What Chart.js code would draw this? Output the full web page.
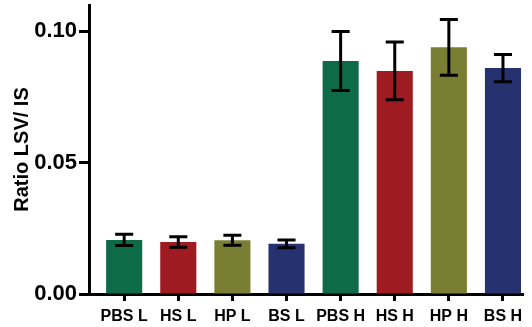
<!DOCTYPE html>
<html>
<head>
<meta charset="utf-8">
<script src="https://cdn.jsdelivr.net/npm/chart.js@4"></script>
<style>
html,body{margin:0;padding:0;background:#fff;}
canvas{display:block;}
</style>
</head>
<body>
<canvas id="c" width="532" height="327"></canvas>
<script>
const categories = ["PBS L","HS L","HP L","BS L","PBS H","HS H","HP H","BS H"];
const values = [0.0206, 0.0198, 0.0205, 0.0191, 0.0887, 0.0849, 0.0939, 0.0860];
const errors = [0.0021, 0.0020, 0.0019, 0.0015, 0.0112, 0.0110, 0.0106, 0.0052];
const colors = ["#0e6b4a","#9e1b22","#7a7e33","#263270","#0e6b4a","#9e1b22","#7a7e33","#263270"];
const yTicks = [0, 0.05, 0.10];

const FONT = 'Arial, "Liberation Sans", Helvetica, sans-serif';

const errorBars = {
  id: 'errorBars',
  afterDatasetsDraw(chart) {
    const ctx = chart.ctx;
    const y = chart.scales.y;
    const meta = chart.getDatasetMeta(0);
    ctx.save();
    ctx.strokeStyle = '#000';
    ctx.lineWidth = 3;
    ctx.lineCap = 'butt';
    meta.data.forEach((bar, i) => {
      const x = bar.x;
      const half = bar.width * 0.25;
      const top = y.getPixelForValue(values[i] + errors[i]);
      const bot = y.getPixelForValue(values[i] - errors[i]);
      ctx.beginPath();
      ctx.moveTo(x, top); ctx.lineTo(x, bot);
      ctx.moveTo(x - half, top); ctx.lineTo(x + half, top);
      ctx.moveTo(x - half, bot); ctx.lineTo(x + half, bot);
      ctx.stroke();
    });
    ctx.restore();
  }
};

new Chart(document.getElementById('c'), {
  type: 'bar',
  data: {
    datasets: [{
      data: categories.map((c, i) => ({x: i, y: values[i]})),
      backgroundColor: colors,
      borderWidth: 0,
      barPercentage: 0.667,
      categoryPercentage: 1.0
    }]
  },
  options: {
    responsive: false,
    animation: false,
    devicePixelRatio: 1,
    layout: { padding: { left: 0, right: 9, top: 5, bottom: 0 } },
    plugins: { legend: { display: false }, tooltip: { enabled: false } },
    scales: {
      x: {
        type: 'linear',
        offset: false,
        min: -0.65,
        max: 7.37,
        afterFit(s) { s.height = 33; s.paddingLeft = 0; s.paddingRight = 0; },
        grid: { drawOnChartArea: false, drawTicks: true, tickLength: 7, tickWidth: 3, tickColor: '#000', offset: false },
        border: { display: true, color: '#000', width: 3 },
        ticks: {
          stepSize: 1,
          includeBounds: false,
          autoSkip: false,
          maxRotation: 0,
          padding: 6,
          color: '#000',
          font: { family: FONT, size: 16, weight: 'bold' },
          callback: (v) => categories[v] !== undefined ? categories[v] : ''
        }
      },
      y: {
        type: 'linear',
        min: 0,
        max: 0.11,
        afterFit(s) { s.width = 89; s.paddingTop = 0; s.paddingBottom = 0; },
        grid: { drawOnChartArea: false, drawTicks: true, tickLength: 10, tickWidth: 3, tickColor: '#000' },
        border: { display: true, color: '#000', width: 3 },
        afterBuildTicks(s) { s.ticks = yTicks.map(v => ({value: v})); },
        ticks: {
          padding: 2,
          color: '#000',
          font: { family: FONT, size: 22, weight: 'bold' },
          callback: (v) => Number(v).toFixed(2)
        },
        title: {
          display: true,
          text: 'Ratio LSV/ IS',
          color: '#000',
          padding: { top: 10, bottom: 0 },
          font: { family: FONT, size: 20, weight: 'bold' }
        }
      }
    }
  },
  plugins: [errorBars]
});
</script>
</body>
</html>
